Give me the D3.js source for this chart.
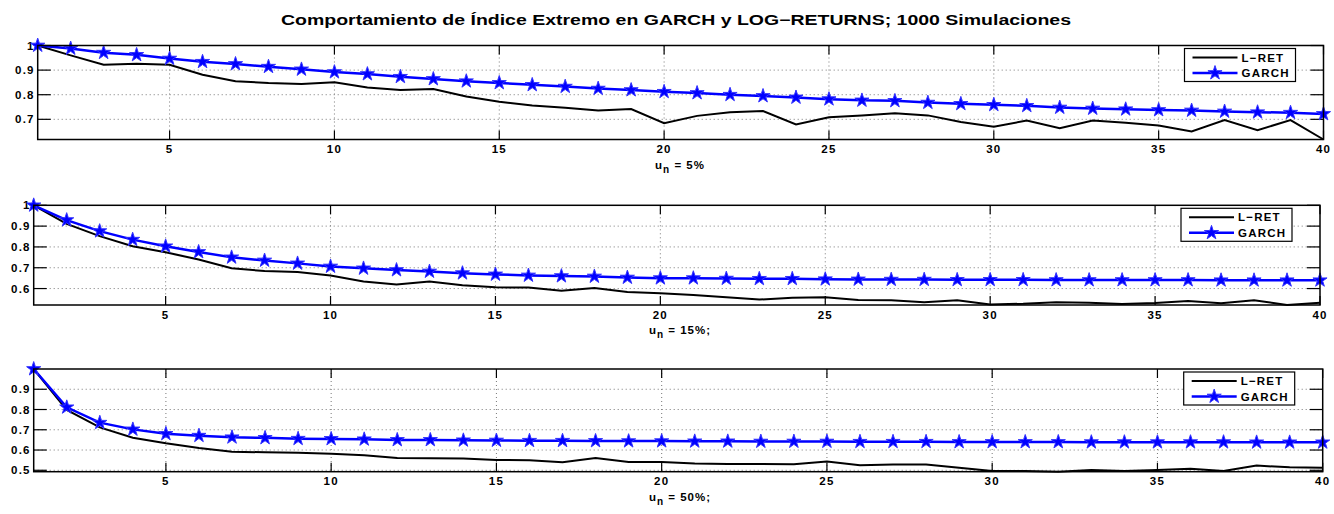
<!DOCTYPE html>
<html>
<head>
<meta charset="utf-8">
<script src="https://cdn.jsdelivr.net/npm/d3@7.9.0/dist/d3.min.js"></script>
<style>
  body { margin: 0; background: #fff; }
  svg { display: block; font-family: "Liberation Sans", Arial, Helvetica, sans-serif; font-weight: bold; }
</style>
</head>
<body>
<svg id="chart" width="1334" height="514"></svg>
<script>
const title = 'Comportamiento de Índice Extremo en GARCH y LOG\u2212RETURNS; 1000 Simulaciones';
const seriesNames = ['L\u2212RET', 'GARCH'];
const xTicks = [5, 10, 15, 20, 25, 30, 35, 40];

// u_n = 5%
const lret5 = [1.000, 0.960, 0.922, 0.926, 0.922, 0.881, 0.855, 0.848, 0.844, 0.851,
  0.829, 0.819, 0.823, 0.793, 0.771, 0.756, 0.747, 0.736, 0.742, 0.684,
  0.714, 0.729, 0.734, 0.679, 0.708, 0.716, 0.725, 0.716, 0.689, 0.670,
  0.695, 0.664, 0.695, 0.686, 0.675, 0.651, 0.697, 0.656, 0.697, 0.618];
const garch5 = [1.000, 0.988, 0.971, 0.962, 0.947, 0.934, 0.925, 0.914, 0.903, 0.892,
  0.884, 0.873, 0.864, 0.855, 0.848, 0.840, 0.833, 0.825, 0.819, 0.812,
  0.807, 0.800, 0.795, 0.789, 0.782, 0.777, 0.775, 0.768, 0.763, 0.759,
  0.755, 0.748, 0.744, 0.741, 0.738, 0.736, 0.732, 0.729, 0.727, 0.722];
const yTicks5 = [0.7, 0.8, 0.9, 1];

// u_n = 15%
const lret15 = [1.000, 0.911, 0.852, 0.803, 0.774, 0.740, 0.698, 0.684, 0.679, 0.663,
  0.634, 0.619, 0.634, 0.616, 0.606, 0.605, 0.589, 0.603, 0.584, 0.577,
  0.569, 0.558, 0.547, 0.556, 0.558, 0.545, 0.544, 0.534, 0.544, 0.524,
  0.527, 0.534, 0.532, 0.526, 0.531, 0.540, 0.529, 0.544, 0.521, 0.532];
const garch15 = [1.000, 0.929, 0.876, 0.835, 0.803, 0.776, 0.750, 0.735, 0.721, 0.706,
  0.697, 0.689, 0.682, 0.674, 0.668, 0.663, 0.660, 0.658, 0.653, 0.650,
  0.650, 0.648, 0.647, 0.647, 0.645, 0.644, 0.643, 0.643, 0.642, 0.642,
  0.642, 0.641, 0.641, 0.641, 0.641, 0.641, 0.640, 0.640, 0.640, 0.640];
const yTicks15 = [0.6, 0.7, 0.8, 0.9, 1];

// u_n = 50%
const lret50 = [1.000, 0.798, 0.712, 0.661, 0.633, 0.610, 0.591, 0.589, 0.586, 0.581,
  0.574, 0.561, 0.559, 0.558, 0.551, 0.549, 0.540, 0.561, 0.541, 0.541,
  0.533, 0.531, 0.531, 0.530, 0.543, 0.525, 0.528, 0.528, 0.513, 0.497,
  0.497, 0.493, 0.502, 0.497, 0.502, 0.507, 0.497, 0.523, 0.515, 0.513];
const garch50 = [1.000, 0.811, 0.735, 0.702, 0.680, 0.671, 0.663, 0.660, 0.656, 0.655,
  0.653, 0.650, 0.650, 0.648, 0.647, 0.646, 0.646, 0.645, 0.644, 0.644,
  0.643, 0.643, 0.642, 0.642, 0.642, 0.641, 0.641, 0.641, 0.640, 0.640,
  0.640, 0.640, 0.639, 0.639, 0.639, 0.639, 0.639, 0.638, 0.638, 0.638];
const yTicks50 = [0.5, 0.6, 0.7, 0.8, 0.9];

const xLabels = ['5%', '15%;', '50%;'];

const panels = [
  { lret: lret5, garch: garch5, yTicks: yTicks5, label: xLabels[0],
    left: 37.7, right: 1323.5, top: 45.5, bottom: 139.5 },
  { lret: lret15, garch: garch15, yTicks: yTicks15, label: xLabels[1],
    left: 33.7, right: 1320, top: 205.3, bottom: 305 },
  { lret: lret50, garch: garch50, yTicks: yTicks50, label: xLabels[2],
    left: 33.7, right: 1322.7, top: 369, bottom: 471.7 }
];

const svg = d3.select('#chart');

svg.append('text')
  .attr('x', 676).attr('y', 25)
  .attr('text-anchor', 'middle')
  .attr('font-size', 14)
  .attr('textLength', 790).attr('lengthAdjust', 'spacingAndGlyphs')
  .text(title);

const star = d3.symbol(d3.symbolStar, 62);

panels.forEach(p => {
  const x = d3.scaleLinear().domain([1, 40]).range([p.left, p.right]);
  const yMin = d3.min([...p.lret, ...p.garch]);
  const y = d3.scaleLinear().domain([yMin, 1]).range([p.bottom, p.top]);
  const g = svg.append('g');

  // grid
  g.selectAll('.vgrid').data(xTicks.filter(t => t < 40)).join('line')
    .attr('x1', d => x(d)).attr('x2', d => x(d))
    .attr('y1', p.top).attr('y2', p.bottom)
    .attr('stroke', '#777').attr('stroke-width', 1).attr('stroke-dasharray', '1,3');
  g.selectAll('.hgrid').data(p.yTicks.filter(t => t < 1)).join('line')
    .attr('x1', p.left).attr('x2', p.right)
    .attr('y1', d => y(d)).attr('y2', d => y(d))
    .attr('stroke', '#777').attr('stroke-width', 1).attr('stroke-dasharray', '1,3');

  // ticks (inward, mirrored)
  const tl = 9;
  xTicks.forEach(t => {
    g.append('line').attr('x1', x(t)).attr('x2', x(t)).attr('y1', p.bottom).attr('y2', p.bottom - tl)
      .attr('stroke', '#000').attr('stroke-width', 1.2);
    g.append('line').attr('x1', x(t)).attr('x2', x(t)).attr('y1', p.top).attr('y2', p.top + tl)
      .attr('stroke', '#000').attr('stroke-width', 1.2);
  });
  p.yTicks.forEach(t => {
    g.append('line').attr('x1', p.left).attr('x2', p.left + 13).attr('y1', y(t)).attr('y2', y(t))
      .attr('stroke', '#000').attr('stroke-width', 1.2);
    g.append('line').attr('x1', p.right).attr('x2', p.right - 13).attr('y1', y(t)).attr('y2', y(t))
      .attr('stroke', '#000').attr('stroke-width', 1.2);
  });

  // tick labels
  g.selectAll('.xl').data(xTicks).join('text')
    .attr('x', d => x(d)).attr('y', p.bottom + 13.5)
    .attr('text-anchor', 'middle').attr('font-size', 11.5)
    .attr('letter-spacing', 1.2)
    .text(d => d);
  g.selectAll('.yl').data(p.yTicks).join('text')
    .attr('x', p.left - 3).attr('y', d => y(d) + 4)
    .attr('text-anchor', 'end').attr('font-size', 11.5)
    .attr('letter-spacing', 1.2)
    .text(d => d);

  // lines
  const line = d3.line().x((d, i) => x(i + 1)).y(d => y(d));
  g.append('path').datum(p.lret).attr('d', line)
    .attr('fill', 'none').attr('stroke', '#000').attr('stroke-width', 2);
  g.append('path').datum(p.garch).attr('d', line)
    .attr('fill', 'none').attr('stroke', '#0000ff').attr('stroke-width', 2.5);
  g.selectAll('.mk').data(p.garch).join('path')
    .attr('transform', (d, i) => `translate(${x(i + 1)},${y(d)})`)
    .attr('d', star)
    .attr('fill', '#0000ff').attr('stroke', '#3333ff').attr('stroke-width', 1);

  // box
  g.append('rect')
    .attr('x', p.left).attr('y', p.top)
    .attr('width', p.right - p.left).attr('height', p.bottom - p.top)
    .attr('fill', 'none').attr('stroke', '#000').attr('stroke-width', 1.5);

  // x label
  const xl = g.append('text')
    .attr('x', 680).attr('y', p.bottom + 29)
    .attr('text-anchor', 'middle').attr('font-size', 11.5)
    .attr('letter-spacing', 1);
  xl.append('tspan').text('u');
  xl.append('tspan').attr('dy', 4).attr('font-size', 10).text('n');
  xl.append('tspan').attr('dy', -4).text(' = ' + p.label);

  // legend
  const lx = p.right - 139, ly = p.top + 3;
  const lg = g.append('g').attr('transform', `translate(${lx},${ly})`);
  lg.append('rect').attr('width', 111).attr('height', 33)
    .attr('fill', '#fff').attr('stroke', '#000').attr('stroke-width', 1.2);
  lg.append('line').attr('x1', 8).attr('x2', 53).attr('y1', 9).attr('y2', 9)
    .attr('stroke', '#000').attr('stroke-width', 2);
  lg.append('line').attr('x1', 8).attr('x2', 53).attr('y1', 24.5).attr('y2', 24.5)
    .attr('stroke', '#0000ff').attr('stroke-width', 2.5);
  lg.append('path').attr('transform', 'translate(30.5,24.5)').attr('d', star)
    .attr('fill', '#0000ff').attr('stroke', '#3333ff').attr('stroke-width', 1);
  lg.selectAll('.lt').data(seriesNames).join('text')
    .attr('x', 57).attr('y', (d, i) => 13 + i * 15.5)
    .attr('font-size', 11.5).attr('letter-spacing', 1.2)
    .text(d => d);
});
</script>
</body>
</html>
